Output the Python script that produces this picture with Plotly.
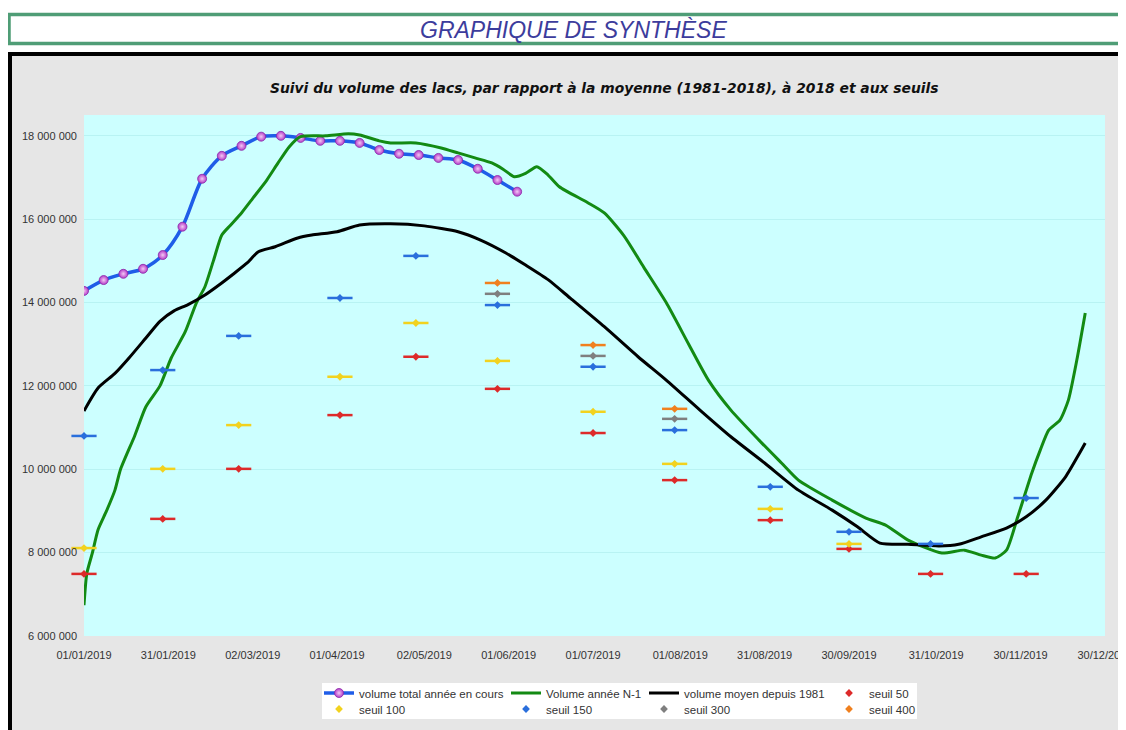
import plotly.graph_objects as go

# ---------------- data ----------------
cur_dates = ["2019-01-01", "2019-01-08", "2019-01-15", "2019-01-22", "2019-01-29", "2019-02-05",
             "2019-02-12", "2019-02-19", "2019-02-26", "2019-03-05", "2019-03-12", "2019-03-19",
             "2019-03-26", "2019-04-02", "2019-04-09", "2019-04-16", "2019-04-23", "2019-04-30",
             "2019-05-07", "2019-05-14", "2019-05-21", "2019-05-28", "2019-06-04"]
cur_vals = [14.28, 14.54, 14.69, 14.81, 15.14, 15.82, 16.97, 17.52, 17.76, 17.98, 18.00, 17.95,
            17.88, 17.88, 17.83, 17.66, 17.57, 17.54, 17.47, 17.42, 17.21, 16.94, 16.66]

n1_dates = ["2019-01-01", "2019-01-02", "2019-01-04", "2019-01-06", "2019-01-09", "2019-01-12",
            "2019-01-14", "2019-01-19", "2019-01-23", "2019-01-28", "2019-02-01", "2019-02-06",
            "2019-02-10", "2019-02-13", "2019-02-16", "2019-02-19", "2019-02-22", "2019-02-26",
            "2019-03-02", "2019-03-07", "2019-03-11", "2019-03-15", "2019-03-19", "2019-03-28",
            "2019-04-05", "2019-04-09", "2019-04-16", "2019-04-20", "2019-04-29", "2019-05-08",
            "2019-05-14", "2019-05-20", "2019-05-26", "2019-05-30", "2019-06-03", "2019-06-07",
            "2019-06-11", "2019-06-15", "2019-06-19", "2019-06-29", "2019-07-05", "2019-07-12",
            "2019-07-19", "2019-07-27", "2019-08-04", "2019-08-11", "2019-08-19",
            "2019-08-29", "2019-09-06", "2019-09-12", "2019-09-24", "2019-10-06", "2019-10-13",
            "2019-10-21", "2019-11-02", "2019-11-10", "2019-11-16", "2019-11-21", "2019-11-25",
            "2019-11-29", "2019-12-04", "2019-12-07", "2019-12-10", "2019-12-14", "2019-12-17",
            "2019-12-20", "2019-12-23"]
n1_vals = [6.74, 7.50, 8.00, 8.55, 9.00, 9.50,
           10.00, 10.80, 11.50, 12.00, 12.67, 13.30,
           14.00, 14.38, 15.00, 15.62, 15.85, 16.15,
           16.50, 16.94, 17.35, 17.74, 17.98, 18.00,
           18.05, 18.02, 17.88, 17.83, 17.83, 17.71,
           17.59, 17.47, 17.35, 17.20, 17.02, 17.10,
           17.26, 17.06, 16.78, 16.40, 16.15, 15.60,
           14.85, 14.00, 13.00, 12.14, 11.42,
           10.70, 10.15, 9.74, 9.26, 8.83, 8.66,
           8.30, 7.99, 8.06, 7.94, 7.87, 8.06,
           8.86, 9.91, 10.46, 10.94, 11.18, 11.66,
           12.62, 13.75]

avg_dates = ["2019-01-01", "2019-01-06", "2019-01-12", "2019-01-17", "2019-01-23", "2019-01-28",
             "2019-02-02", "2019-02-07", "2019-02-13", "2019-02-18", "2019-02-23", "2019-02-28",
             "2019-03-04", "2019-03-10", "2019-03-18", "2019-03-23", "2019-04-01", "2019-04-09",
             "2019-04-20", "2019-05-02", "2019-05-14", "2019-05-22", "2019-05-31", "2019-06-07",
             "2019-06-15", "2019-06-23", "2019-07-05", "2019-07-17", "2019-07-27",
             "2019-08-08", "2019-08-19", "2019-08-31", "2019-09-12", "2019-09-24", "2019-10-03",
             "2019-10-11", "2019-10-21", "2019-11-01", "2019-11-08", "2019-11-16",
             "2019-11-25", "2019-12-02", "2019-12-09", "2019-12-16", "2019-12-21", "2019-12-23"]
avg_vals = [11.40, 11.95, 12.30, 12.67, 13.15, 13.55,
            13.80, 13.95, 14.18, 14.42, 14.68, 14.95,
            15.22, 15.34, 15.55, 15.62, 15.70, 15.86,
            15.89, 15.84, 15.70, 15.50, 15.19, 14.90,
            14.55, 14.10, 13.42, 12.70, 12.14,
            11.42, 10.78, 10.15, 9.50, 9.02, 8.62,
            8.23, 8.20, 8.16, 8.20, 8.38,
            8.59, 8.86, 9.26, 9.82, 10.39, 10.63]

seuil_dates = ["2019-01-01", "2019-01-29", "2019-02-25", "2019-04-02", "2019-04-29", "2019-05-28",
               "2019-07-01", "2019-07-30", "2019-09-02", "2019-09-30", "2019-10-29", "2019-12-02"]
seuil_50 = [7.49, 8.81, 10.01, 11.30, 12.70, 11.93, 10.87, 9.74, 8.78, 8.09, 7.49, 7.49]
seuil_100 = [8.11, 10.01, 11.06, 12.22, 13.51, 12.60, 11.38, 10.13, 9.05, 8.21, None, None]
seuil_150 = [10.80, 12.38, 13.20, 14.11, 15.12, 13.94, 12.46, 10.94, 9.58, 8.50, 8.21, 9.31]
seuil_300 = [None, None, None, None, None, 14.21, 12.72, 11.21, None, None, None, None]
seuil_400 = [None, None, None, None, None, 14.47, 12.98, 11.45, None, None, None, None]

x_tick_dates = ["2019-01-01", "2019-01-31", "2019-03-02", "2019-04-01", "2019-05-02", "2019-06-01",
                "2019-07-01", "2019-08-01", "2019-08-31", "2019-09-30", "2019-10-31", "2019-11-30",
                "2019-12-30"]
x_tick_labels = ["01/01/2019", "31/01/2019", "02/03/2019", "01/04/2019", "02/05/2019", "01/06/2019",
                 "01/07/2019", "01/08/2019", "31/08/2019", "30/09/2019", "31/10/2019", "30/11/2019",
                 "30/12/2019"]
y_tick_vals = [6e6, 8e6, 10e6, 12e6, 14e6, 16e6, 18e6]
y_tick_labels = ["6 000 000", "8 000 000", "10 000 000", "12 000 000", "14 000 000", "16 000 000", "18 000 000"]

M = 1e6
def mil(vals):
    return [None if v is None else v * M for v in vals]

# ---------------- geometry helpers ----------------
# the page body has an 8px margin, so the figure is drawn 8px smaller and
# every page-pixel position below is shifted by OFF.
OFF = 8
W, H = 1126 - OFF, 730 - OFF
L, T = 84 - OFF, 115 - OFF
R = 1126 - 1105
B = 730 - 636
PW, PH = W - L - R, H - T - B
def px(x):
    return (x - OFF - L) / PW
def py(y):
    return (H - B - (y - OFF)) / PH

FONT = "Liberation Sans, Arial, sans-serif"
FONT_TITLE = "DejaVu Sans, Verdana, sans-serif"

fig = go.Figure()

fig.add_trace(go.Scatter(
    x=cur_dates, y=mil(cur_vals), name="volume total année en cours", mode="lines+markers",
    line=dict(color="#1f5de8", width=3.5, shape="spline", smoothing=0.8),
    marker=dict(size=9, color="#b43cc8", line=dict(color="#8a2aa8", width=0.8),
                gradient=dict(type="radial", color="#f4c8f4")),
    legend="legend", legendwidth=142))
fig.add_trace(go.Scatter(
    x=n1_dates, y=mil(n1_vals), name="Volume année N-1", mode="lines",
    line=dict(color="#138a13", width=3, shape="spline", smoothing=0.6),
    legend="legend", legendwidth=93))
fig.add_trace(go.Scatter(
    x=avg_dates, y=mil(avg_vals), name="volume moyen depuis 1981", mode="lines",
    line=dict(color="#000000", width=3, shape="spline", smoothing=0.6),
    legend="legend", legendwidth=140))

seuils = [
    ("seuil 50", seuil_50, "#dd2a2a", "legend", 45),
    ("seuil 100", seuil_100, "#f2d21e", "legend2", 142),
    ("seuil 150", seuil_150, "#2a6fdc", "legend2", 93),
    ("seuil 300", seuil_300, "#7f7f7f", "legend2", 140),
    ("seuil 400", seuil_400, "#f0801e", "legend2", 45),
]
for name, vals, col, leg, lw in seuils:
    fig.add_trace(go.Scatter(
        x=seuil_dates, y=mil(vals), mode="markers", name=name, legendgroup=name,
        showlegend=False, cliponaxis=False,
        marker=dict(symbol="line-ew", size=18, line=dict(color=col, width=2.5))))
    fig.add_trace(go.Scatter(
        x=seuil_dates, y=mil(vals), mode="markers", name=name, legendgroup=name,
        cliponaxis=False,
        marker=dict(symbol="diamond", size=6, color=col, line=dict(width=0)),
        legend=leg, legendwidth=lw))

shapes = [
    dict(type="rect", xref="paper", yref="paper", layer="below",
         x0=px(10), x1=px(1140), y0=py(745), y1=py(54),
         fillcolor="#e6e6e6", line=dict(color="#000000", width=4)),
    dict(type="rect", xref="paper", yref="paper", layer="below",
         x0=px(9), x1=px(1140), y0=py(43.5), y1=py(14.5),
         fillcolor="#ffffff", line=dict(color="#4f9d76", width=3.5)),
    dict(type="rect", xref="paper", yref="paper", layer="below",
         x0=0, x1=1, y0=0, y1=1, fillcolor="#ccffff", line=dict(width=0)),
    dict(type="rect", xref="paper", yref="paper", layer="below",
         x0=px(322), x1=px(917), y0=py(719), y1=py(683),
         fillcolor="#ffffff", line=dict(width=0)),
]

annotations = [
    dict(text="GRAPHIQUE DE SYNTHÈSE", xref="paper", yref="paper", x=px(573), y=py(29.5),
         xanchor="center", yanchor="middle", showarrow=False,
         font=dict(family=FONT, size=23, color="#3c3c9c", style="italic")),
    dict(text="Suivi du volume des lacs, par rapport à la moyenne (1981-2018), à 2018 et aux seuils",
         xref="paper", yref="paper", x=px(604), y=py(88), xanchor="center", yanchor="middle",
         showarrow=False, font=dict(family=FONT_TITLE, size=13.85, color="#111111", style="italic", weight="bold")),
]

legend_common = dict(orientation="h", xref="paper", yref="paper", xanchor="left", yanchor="top",
                     bgcolor="rgba(0,0,0,0)", borderwidth=0, itemclick=False,
                     font=dict(family=FONT, size=11.5, color="#333333"), tracegroupgap=0)

fig.update_layout(
    width=W, height=H,
    margin=dict(l=L, r=R, t=T, b=B, autoexpand=False),
    paper_bgcolor="#ffffff",
    plot_bgcolor="rgba(0,0,0,0)",
    shapes=shapes,
    annotations=annotations,
    showlegend=True,
    legend=dict(x=px(319), y=py(678.5), **legend_common),
    legend2=dict(x=px(319), y=py(694.5), **legend_common),
    xaxis=dict(type="date", range=["2019-01-01", "2019-12-30 00:30"], tickvals=x_tick_dates,
               ticktext=x_tick_labels, showgrid=False, zeroline=False, showline=False,
               ticks="", ticklabelstandoff=11, automargin=False, ticklabeloverflow="allow",
               tickfont=dict(family=FONT, size=11, color="#333333")),
    yaxis=dict(range=[6e6, 18.5e6], tickvals=y_tick_vals, ticktext=y_tick_labels,
               showgrid=True, gridcolor="rgba(140,215,215,0.3)", gridwidth=1,
               zeroline=False, showline=False, ticks="", ticklabelstandoff=6, automargin=False,
               tickfont=dict(family=FONT, size=11, color="#333333")),
)

fig.write_html("out.html")
